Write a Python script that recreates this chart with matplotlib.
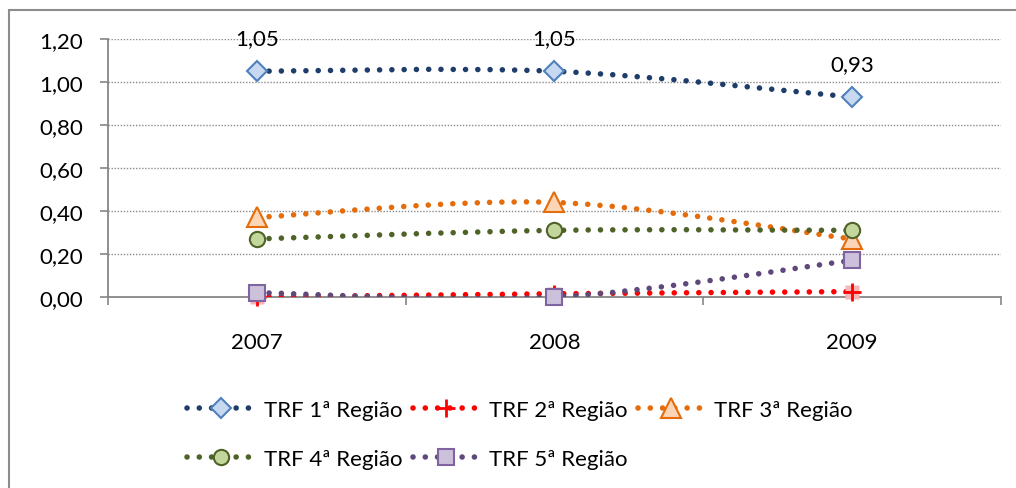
import numpy as np
import matplotlib.pyplot as plt
from matplotlib.path import Path
from matplotlib.patches import PathPatch, Rectangle
from matplotlib.lines import Line2D

plt.rcParams['font.family'] = ['Lato', 'DejaVu Sans']

years = ['2007', '2008', '2009']
trf1 = [1.05, 1.05, 0.93]
trf2 = [0.00, 0.015, 0.025]
trf3 = [0.37, 0.44, 0.27]
trf4 = [0.27, 0.31, 0.31]
trf5 = [0.02, 0.00, 0.17]
labels = ['TRF 1ª Região', 'TRF 2ª Região', 'TRF 3ª Região', 'TRF 4ª Região', 'TRF 5ª Região']
yticks = [0.0, 0.2, 0.4, 0.6, 0.8, 1.0, 1.2]

# line colour, marker, marker face, marker edge, marker size
styles = [
    ('#1F3D6B', 'D', '#C6D9F1', '#4F81BD', 10),
    ('#FF0000', '+', '#FF0000', '#FF0000', 13),
    ('#E46C0A', '^', '#FBD5B5', '#E46C0A', 14),
    ('#4F6228', 'o', '#C3D69B', '#4F6228', 11),
    ('#5F497A', 's', '#CCC1DA', '#8064A2', 11),
]
DOTS = (0, (0.01, 2.2))
LW = 4.0
FS = 16


def smooth_path(x, y):
    """Bezier path through the points, like Excel's smoothed line."""
    pts = np.column_stack([x, y]).astype(float)
    n = len(pts)
    verts = [pts[0]]
    codes = [Path.MOVETO]
    for i in range(n - 1):
        p0 = pts[max(i - 1, 0)]
        p1 = pts[i]
        p2 = pts[i + 1]
        p3 = pts[min(i + 2, n - 1)]
        c1 = p1 + (p2 - p0) / 6.0
        c2 = p2 - (p3 - p1) / 6.0
        verts += [c1, c2, p2]
        codes += [Path.CURVE4] * 3
    return Path(verts, codes)


fig = plt.figure(figsize=(10.16, 4.89), dpi=100)
ax = fig.add_axes([0.1063, 0.3906, 0.8787, 0.5276])

x = np.arange(len(years))
series = [trf1, trf2, trf3, trf4, trf5]
handles = []
for k, (vals, st) in enumerate(zip(series, styles)):
    col, mk, fc, ec, ms = st
    z = 3 + k
    patch = PathPatch(smooth_path(x, vals), fill=False, edgecolor=col, lw=LW,
                      linestyle=DOTS, capstyle='round', zorder=z)
    ax.add_patch(patch)
    if mk == '+':
        ax.plot(x, vals, linestyle='none', marker='s', ms=10, mfc='#F4B6B6',
                mec='none', zorder=z + 0.1, clip_on=False)
        ax.plot(x, vals, linestyle='none', marker='+', ms=ms, mew=2, mec=col,
                zorder=z + 0.2, clip_on=False)
    else:
        ax.plot(x, vals, linestyle='none', marker=mk, ms=ms, mfc=fc, mec=ec,
                mew=1.5, zorder=z + 0.2, clip_on=False)
    h = Line2D([], [], color=col, lw=LW, linestyle=DOTS, dash_capstyle='round',
               marker=mk, ms=ms, mfc=fc, mec=ec, mew=2 if mk == '+' else 1.5)
    handles.append(h)

# data labels for TRF 1
for xi, v in zip(x, trf1):
    ax.annotate(f'{v:.2f}'.replace('.', ','), (xi, v), xytext=(0, 24),
                textcoords='offset points', ha='center', va='center', fontsize=FS)

ax.set_xlim(-0.5, 2.5)
ax.set_ylim(0, 1.2)
ax.set_yticks(yticks)
ax.set_yticklabels([f'{t:.2f}'.replace('.', ',') for t in yticks], fontsize=FS)
ax.set_xticks([-0.5, 0.5, 1.5, 2.5])
ax.set_xticklabels([])
ax.set_xticks(x, minor=True)
ax.set_xticklabels(years, minor=True, fontsize=FS)
ax.tick_params(axis='x', which='major', length=6, width=1.2, color='#868686', direction='out')
ax.tick_params(axis='x', which='minor', length=0, pad=25)
ax.tick_params(axis='y', length=6, width=1.2, color='#868686', pad=12)

for t in yticks[1:]:
    ax.axhline(t, color='#8C8C8C', lw=1.0, linestyle=(0, (1, 1.2)), zorder=1)

for s in ['top', 'right']:
    ax.spines[s].set_visible(False)
for s in ['left', 'bottom']:
    ax.spines[s].set_color('#868686')
    ax.spines[s].set_linewidth(1.3)

order = [0, 3, 1, 4, 2]
fig.legend([handles[i] for i in order], [labels[i] for i in order], ncol=3,
           loc='center', bbox_to_anchor=(0.512, 0.11), frameon=False, fontsize=FS,
           handlelength=3.0, handletextpad=0.45, columnspacing=0.45, labelspacing=1.3)

fig.patches.append(Rectangle((9 / 1016, -0.1), 1.1, 1 - 11 / 489 + 0.1,
                             transform=fig.transFigure, fill=False,
                             edgecolor='#8C8C8C', lw=1.5))

fig.savefig('out.png', dpi=100)
